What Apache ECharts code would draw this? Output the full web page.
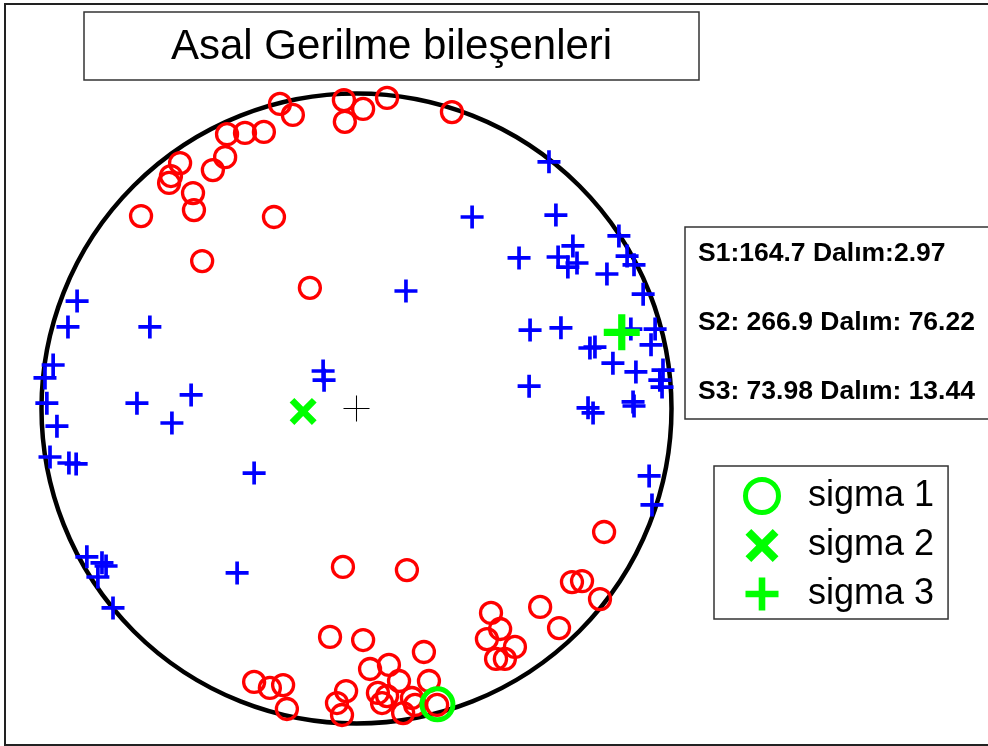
<!DOCTYPE html>
<html>
<head>
<meta charset="utf-8">
<script src="https://cdn.jsdelivr.net/npm/echarts@6.0.0/dist/echarts.min.js"></script>
<style>
html, body { margin: 0; padding: 0; background: #fff; }
#stereo { width: 988px; height: 746px; }
</style>
</head>
<body>
<div id="stereo"></div>
<script>
// equal-area net, unit circle coordinates (x east, y north)
var red_x = [-0.684, -0.519, -0.516, -0.560, -0.589, -0.595, -0.456, -0.417, -0.411, -0.354,
    -0.294, -0.243, -0.202, -0.040, 0.021, -0.037, 0.097, 0.303, -0.262, -0.490, -0.148,
    0.786, 0.684, 0.716, 0.773, 0.583, 0.643, 0.427, 0.456, 0.414, 0.503,
    0.443, 0.471, 0.160, -0.043, -0.084, 0.021, 0.214, 0.043, 0.103, 0.135,
    0.230, -0.325, -0.275, -0.233, -0.221, -0.033, -0.062, -0.046, 0.068, 0.097,
    0.081, 0.148, 0.176, 0.186, 0.256];
var red_y = [0.611, 0.684, 0.630, 0.779, 0.738, 0.716, 0.757, 0.798, 0.871, 0.875,
    0.878, 0.967, 0.932, 0.979, 0.951, 0.910, 0.986, 0.941, 0.608, 0.468, 0.383,
    -0.392, -0.551, -0.548, -0.605, -0.630, -0.697, -0.649, -0.700, -0.732, -0.757,
    -0.795, -0.795, -0.513, -0.503, -0.725, -0.735, -0.773, -0.827, -0.814, -0.865,
    -0.865, -0.868, -0.887, -0.878, -0.954, -0.897, -0.935, -0.973, -0.903, -0.913,
    -0.935, -0.967, -0.919, -0.941, -0.941];

var blue_x = [0.611, 0.367, 0.633, 0.833, 0.687, 0.516, 0.640, 0.671, 0.700, 0.859,
    0.881, 0.795, 0.910, 0.157, 0.551, 0.649, 0.871, 0.948, 0.935, 0.741,
    0.757, 0.814, 0.887, 0.973, 0.963, 0.970, 0.548, 0.735, 0.751, 0.878,
    0.881, 0.929, 0.938,
    -0.106, -0.103,
    -0.887, -0.916, -0.656, -0.963, -0.989, -0.983, -0.697, -0.525, -0.586, -0.951,
    -0.973, -0.913, -0.890, -0.325, -0.856, -0.808, -0.795, -0.821, -0.379, -0.773];
var blue_y = [0.783, 0.608, 0.614, 0.548, 0.516, 0.478, 0.481, 0.449, 0.462, 0.484,
    0.456, 0.427, 0.363, 0.373, 0.249, 0.256, 0.252, 0.252, 0.202, 0.192,
    0.195, 0.144, 0.116, 0.122, 0.090, 0.068, 0.071, 0.002, -0.014, 0.021,
    0.008, -0.214, -0.306,
    0.119, 0.090,
    0.341, 0.259, 0.259, 0.138, 0.097, 0.017, 0.017, 0.043, -0.046, -0.056,
    -0.154, -0.173, -0.176, -0.205, -0.471, -0.490, -0.500, -0.535, -0.522, -0.633];

// principal stresses: trend / plunge (degrees)
var sigma_names = ['sigma 1', 'sigma 2', 'sigma 3'];
var sigma_trend = [164.7, 266.9, 73.98];
var sigma_dip = [2.97, 76.22, 13.44];

var title_text = 'Asal Gerilme bileşenleri';
var info_lines = ['S1:164.7 Dalım:2.97', 'S2: 266.9 Dalım: 76.22', 'S3: 73.98 Dalım: 13.44'];

var FONT = '"Liberation Sans", Arial, sans-serif';

// symbols
var plus_path = 'path://M-0.16,-1L0.16,-1L0.16,-0.16L1,-0.16L1,0.16L0.16,0.16L0.16,1L-0.16,1L-0.16,0.16L-1,0.16L-1,-0.16L-0.16,-0.16Z';
var thin_plus = 'path://M-0.04,-1L0.04,-1L0.04,-0.04L1,-0.04L1,0.04L0.04,0.04L0.04,1L-0.04,1L-0.04,0.04L-1,0.04L-1,-0.04L-0.04,-0.04Z';
var fat_plus = 'path://M-0.2,-1L0.2,-1L0.2,-0.2L1,-0.2L1,0.2L0.2,0.2L0.2,1L-0.2,1L-0.2,0.2L-1,0.2L-1,-0.2L-0.2,-0.2Z';
var fat_x = 'path://M-0.65,-1L0,-0.35L0.65,-1L1,-0.65L0.35,0L1,0.65L0.65,1L0,0.35L-0.65,1L-1,0.65L-0.35,0L-1,-0.65Z';

function toPolar(x, y) {
    var r = Math.sqrt(x * x + y * y);
    var a = Math.atan2(y, x) * 180 / Math.PI;
    if (a < 0) a += 360;
    return [r, a];
}
// Schmidt (equal-area) projection of a line, lower hemisphere
function schmidt(trend, dip) {
    var r = Math.SQRT2 * Math.sin((90 - dip) / 2 * Math.PI / 180);
    var a = 90 - trend;
    if (a < 0) a += 360;
    return [r, a];
}

var red_data = red_x.map(function (x, i) { return toPolar(x, red_y[i]); });
var blue_data = blue_x.map(function (x, i) { return toPolar(x, blue_y[i]); });
var sigma_pts = sigma_trend.map(function (t, i) { return schmidt(t, sigma_dip[i]); });

var chart = echarts.init(document.getElementById('stereo'));
var option = {
    animation: false,
    backgroundColor: '#fff',
    textStyle: { fontFamily: FONT },
    title: [{
        text: title_text,
        left: 84,
        top: 12,
        padding: [14, 87, 11, 87],
        borderColor: '#333',
        borderWidth: 1.5,
        textStyle: { fontSize: 42, fontWeight: 'normal', color: '#000', fontFamily: FONT, lineHeight: 43 }
    }, {
        text: info_lines.join('\n\n'),
        left: 685,
        top: 227,
        padding: [9, 80, 11, 13],
        borderColor: '#333',
        borderWidth: 1.5,
        backgroundColor: '#fff',
        textStyle: { fontSize: 26.5, fontWeight: 'bold', color: '#000', fontFamily: FONT, lineHeight: 34.5 }
    }],
    legend: {
        orient: 'vertical',
        left: 714,
        top: 466,
        padding: [11, 14, 7, 29],
        itemWidth: 82,
        itemHeight: 33,
        itemGap: 12.5,
        selectedMode: false,
        borderColor: '#333',
        borderWidth: 1.5,
        backgroundColor: '#fff',
        textStyle: { fontSize: 36, color: '#000', fontFamily: FONT, lineHeight: 34 },
        data: [
            { name: sigma_names[0], icon: 'circle', itemStyle: { color: 'rgba(0,0,0,0)', borderColor: '#00ff00', borderWidth: 5 } },
            { name: sigma_names[1], icon: fat_x, itemStyle: { color: '#00ff00', borderWidth: 0 } },
            { name: sigma_names[2], icon: fat_plus, itemStyle: { color: '#00ff00', borderWidth: 0 } }
        ]
    },
    polar: {
        center: [356.5, 408.5],
        radius: 315
    },
    angleAxis: {
        type: 'value',
        min: 0,
        max: 360,
        startAngle: 0,
        clockwise: false,
        axisLine: { show: true, lineStyle: { color: '#000', width: 4.5 } },
        axisTick: { show: false },
        axisLabel: { show: false },
        splitLine: { show: false }
    },
    radiusAxis: {
        type: 'value',
        min: 0,
        max: 1,
        show: false,
        axisLine: { show: false },
        axisTick: { show: false },
        axisLabel: { show: false },
        splitLine: { show: false }
    },
    graphic: [{
        type: 'rect',
        silent: true,
        z: 100,
        shape: { x: 5, y: 4, width: 1000, height: 741 },
        style: { fill: 'none', stroke: '#222', lineWidth: 2 }
    }],
    series: [{
        name: 'poles1',
        type: 'scatter',
        coordinateSystem: 'polar',
        clip: false,
        symbol: 'circle',
        symbolSize: 21,
        itemStyle: { color: 'rgba(0,0,0,0)', borderColor: '#ff0000', borderWidth: 3.3, opacity: 1 },
        data: red_data,
        z: 2
    }, {
        name: 'poles3',
        type: 'scatter',
        coordinateSystem: 'polar',
        clip: false,
        symbol: plus_path,
        symbolSize: 23,
        itemStyle: { color: '#0000ff', opacity: 1 },
        data: blue_data,
        z: 2
    }, {
        name: 'center',
        type: 'scatter',
        coordinateSystem: 'polar',
        clip: false,
        symbol: thin_plus,
        symbolSize: 26,
        itemStyle: { color: '#000', opacity: 1 },
        data: [[0, 0]],
        z: 3
    }, {
        name: sigma_names[0],
        type: 'scatter',
        coordinateSystem: 'polar',
        clip: false,
        symbol: 'circle',
        symbolSize: 31,
        itemStyle: { color: 'rgba(0,0,0,0)', borderColor: '#00ff00', borderWidth: 5, opacity: 1 },
        data: [sigma_pts[0]],
        z: 5
    }, {
        name: sigma_names[1],
        type: 'scatter',
        coordinateSystem: 'polar',
        clip: false,
        symbol: fat_x,
        symbolSize: 27,
        itemStyle: { color: '#00ff00', opacity: 1 },
        data: [sigma_pts[1]],
        z: 5
    }, {
        name: sigma_names[2],
        type: 'scatter',
        coordinateSystem: 'polar',
        clip: false,
        symbol: fat_plus,
        symbolSize: 36,
        itemStyle: { color: '#00ff00', opacity: 1 },
        data: [sigma_pts[2]],
        z: 5
    }]
};
chart.setOption(option);
</script>
</body>
</html>
